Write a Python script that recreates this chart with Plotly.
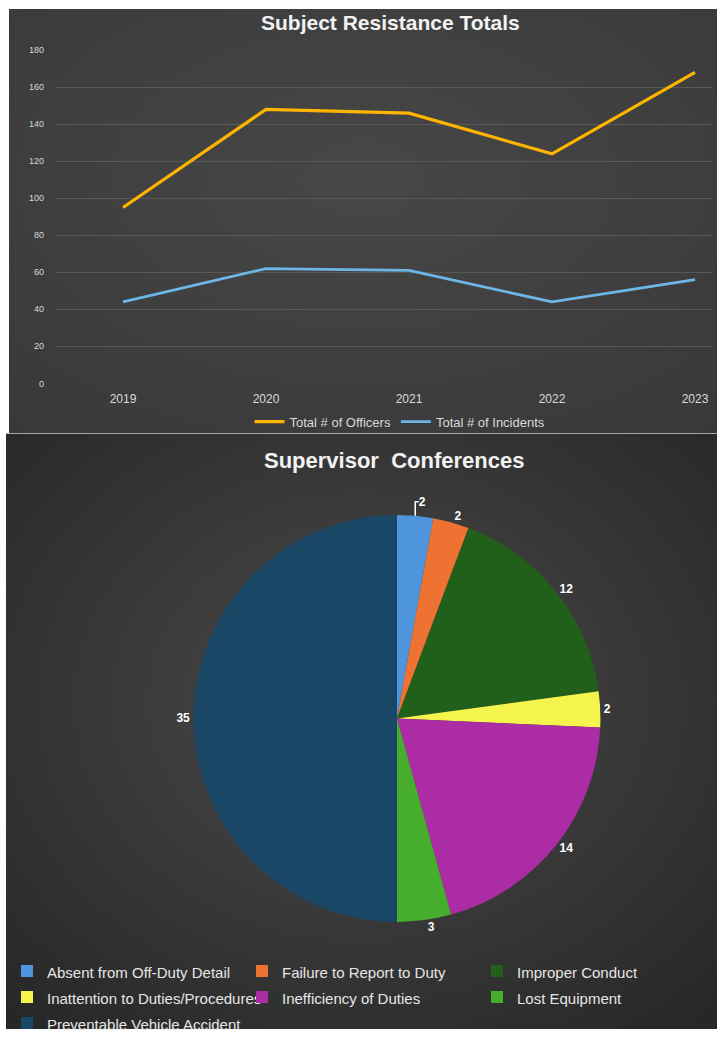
import base64
import plotly.graph_objects as go

# ---------------- data ----------------
years = [2019, 2020, 2021, 2022, 2023]
officers = [95, 148, 146, 124, 168]
incidents = [44, 62, 61, 44, 56]
y_ticks = [0, 20, 40, 60, 80, 100, 120, 140, 160, 180]

conf_labels = [
    "Absent from Off-Duty Detail",
    "Failure to Report to Duty",
    "Improper Conduct",
    "Inattention to Duties/Procedures",
    "Inefficiency of Duties",
    "Lost Equipment",
    "Preventable Vehicle Accident",
]
conf_values = [2, 2, 12, 2, 14, 3, 35]
conf_colors = ["#4E95DE", "#EE7333", "#21601A", "#F4F44C", "#AC2CA6", "#46AE2C", "#1B4767"]

W, H = 717, 1042


def px(x):
    return x / W


def py(y):
    return 1 - y / H


def grad_svg(w, h, c0, c1, cy="45%", r="75%"):
    svg = (
        f'<svg xmlns="http://www.w3.org/2000/svg" width="{w}" height="{h}" preserveAspectRatio="none">'
        f'<defs><radialGradient id="g" cx="50%" cy="{cy}" r="{r}">'
        f'<stop offset="0" stop-color="{c0}"/><stop offset="1" stop-color="{c1}"/>'
        f'</radialGradient></defs><rect width="{w}" height="{h}" fill="url(#g)"/></svg>'
    )
    return "data:image/svg+xml;base64," + base64.b64encode(svg.encode()).decode()


fig = go.Figure()

fig.add_trace(go.Scatter(
    x=years, y=officers, mode="lines", name="Total # of Officers",
    line=dict(color="#FFB400", width=3.2), legend="legend",
))
fig.add_trace(go.Scatter(
    x=years, y=incidents, mode="lines", name="Total # of Incidents",
    line=dict(color="#6DB6E8", width=2.8), legend="legend",
))

pie_legend_names = [f'<span style="font-size:15px">{n}</span>' for n in conf_labels]

fig.add_trace(go.Pie(
    labels=pie_legend_names, values=conf_values, sort=False, direction="clockwise",
    rotation=0, marker=dict(colors=conf_colors, line=dict(width=0)),
    textinfo="value", textposition="outside",
    textfont=dict(color="#FFFFFF", size=12, family="Liberation Sans, Arial", weight="bold"),
    domain=dict(x=[px(397 - 207), px(397 + 207)], y=[py(726 + 207), py(726 - 207)]),
    legend="legend2", showlegend=True, hoverinfo="label+value",
))

fig.update_layout(
    width=W, height=H, margin=dict(l=0, r=0, t=0, b=0),
    paper_bgcolor="#FFFFFF", plot_bgcolor="rgba(0,0,0,0)",
    font=dict(family="Liberation Sans, Arial", color="#D9D9D9"),
    xaxis=dict(
        domain=[px(55), px(712)], range=[2019 - 68 / 143, 2023 + 17 / 143],
        tickvals=years, ticktext=[str(y) for y in years], showgrid=False,
        zeroline=False, showline=False, tickfont=dict(size=12, color="#D9D9D9"),
        ticklabelstandoff=7,
    ),
    yaxis=dict(
        domain=[py(385), py(46)], range=[0, 180], tickvals=y_ticks,
        gridcolor="#585858", gridwidth=1, zeroline=False, showline=False,
        tickfont=dict(size=9, color="#D9D9D9"), ticklabelstandoff=10,
    ),
    legend=dict(
        orientation="h", x=px(400), xanchor="center", y=py(424), yanchor="middle",
        font=dict(size=13, color="#D9D9D9"), bgcolor="rgba(0,0,0,0)",
    ),
    legend2=dict(
        orientation="h", x=px(7), xanchor="left", y=py(965), yanchor="top",
        font=dict(size=17.7, color="#E6E6E6"), bgcolor="rgba(0,0,0,0)",
        entrywidth=190, entrywidthmode="pixels", traceorder="normal",
    ),
    images=[
        dict(source=grad_svg(708, 432, "#474747", "#383838", cy="40%", r="80%"),
             xref="paper", yref="paper", x=px(9), y=py(4), sizex=px(708), sizey=432 / H,
             xanchor="left", yanchor="top", sizing="stretch", layer="below"),
        dict(source=grad_svg(711, 606, "#4A4A4A", "#242424", cy="45%", r="78%"),
             xref="paper", yref="paper", x=px(6), y=py(436), sizex=px(711), sizey=606 / H,
             xanchor="left", yanchor="top", sizing="stretch", layer="below"),
    ],
    annotations=[
        dict(text="<b>Subject Resistance Totals</b>", x=px(390), y=py(18), xref="paper",
             yref="paper", xanchor="center", yanchor="middle", showarrow=False,
             font=dict(size=21, color="#F2F2F2")),
        dict(text="<b>Supervisor  Conferences</b>", x=px(394), y=py(463), xref="paper",
             yref="paper", xanchor="center", yanchor="middle", showarrow=False,
             font=dict(size=22, color="#F2F2F2")),
    ],
)

fig.write_html("out.html")
